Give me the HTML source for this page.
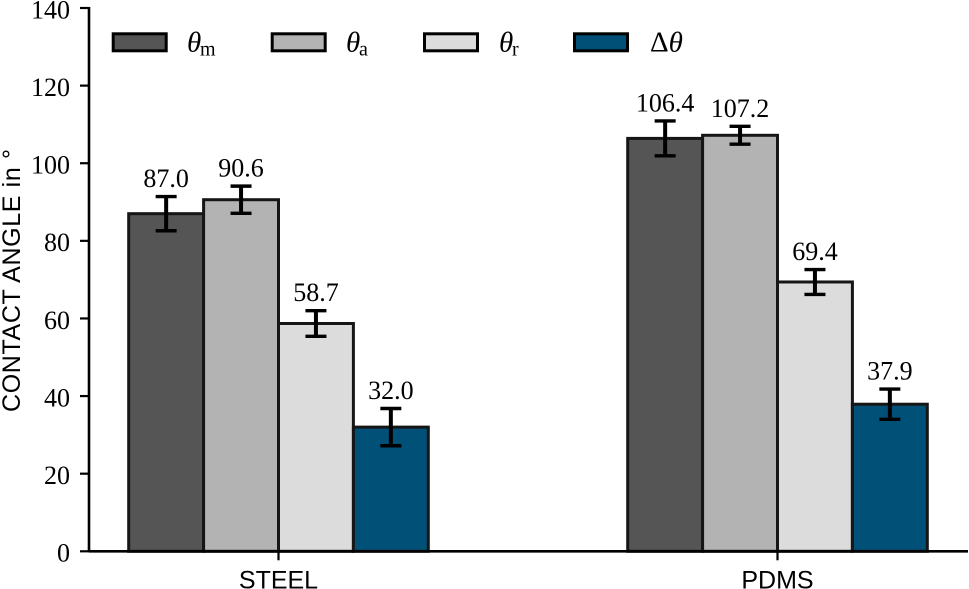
<!DOCTYPE html>
<html>
<head>
<meta charset="utf-8">
<title>Contact angle chart</title>
<style>
html,body{margin:0;padding:0;background:#fff;width:969px;height:589px;overflow:hidden}
svg{display:block}
text{fill:#000}
.num{font-family:"Liberation Serif",serif;font-size:26px}
.sans{font-family:"Liberation Sans",sans-serif;font-size:25px}
.sym{font-family:"Liberation Serif",serif;font-size:29px;font-style:italic}
.upright{font-style:normal}
.sub{font-family:"Liberation Serif",serif;font-size:20px}
</style>
</head>
<body>
<svg id="chart" xmlns="http://www.w3.org/2000/svg" width="969" height="589" viewBox="0 0 969 589"></svg>
<script>
const categories = ['STEEL', 'PDMS'];
const seriesNames = ['theta-m', 'theta-a', 'theta-r', 'delta-theta'];
const thetaM = [87.0, 106.4];
const thetaA = [90.6, 107.2];
const thetaR = [58.7, 69.4];
const deltaTheta = [32.0, 37.9];
const thetaMErr = [4.4, 4.5];
const thetaAErr = [3.5, 2.3];
const thetaRErr = [3.3, 3.2];
const deltaThetaErr = [4.8, 3.9];
const yTicks = [0, 20, 40, 60, 80, 100, 120, 140];
const seriesColors = ['#555555', '#b3b3b3', '#dcdcdc', '#005078'];

const allValues = [thetaM, thetaA, thetaR, deltaTheta];
const allErrors = [thetaMErr, thetaAErr, thetaRErr, deltaThetaErr];

const svg = document.getElementById('chart');
const NS = 'http://www.w3.org/2000/svg';
function mk(tag, attrs, txt) {
  const e = document.createElementNS(NS, tag);
  for (const k in attrs) e.setAttribute(k, attrs[k]);
  if (txt !== undefined) e.textContent = txt;
  svg.appendChild(e);
  return e;
}
function yScale(v) { return 551.3 - v * (543.3 / 140); }
function xCenter(i) { return 278.5 + i * 499; }
const barWidth = 74.9;
function xBar(i, s) { return xCenter(i) + (s - 2) * barWidth; }

allValues.forEach(function (vals, s) {
  vals.forEach(function (v, i) {
    const bar = mk('rect', {
      x: xBar(i, s), y: yScale(v), width: barWidth, height: yScale(0) - yScale(v),
      fill: seriesColors[s], stroke: '#161616', 'stroke-width': 3
    });
    
    
  });
});

allValues.forEach(function (vals, s) {
  vals.forEach(function (v, i) {
    const cx = xBar(i, s) + barWidth / 2;
    const hi = yScale(v + allErrors[s][i]);
    const lo = yScale(v - allErrors[s][i]);
    const stem = mk('line', { x1: cx, x2: cx, y1: hi, y2: lo, stroke: '#000', 'stroke-width': 4 });
    
    
    const capTop = mk('line', { x1: cx - 10.5, x2: cx + 10.5, y1: hi, y2: hi, stroke: '#000', 'stroke-width': 3.4 });
    
    
    const capBottom = mk('line', { x1: cx - 10.5, x2: cx + 10.5, y1: lo, y2: lo, stroke: '#000', 'stroke-width': 3.4 });
    
    
    const label = mk('text', { x: cx, y: hi - 9.5, 'text-anchor': 'middle', class: 'num' }, v.toFixed(1));
    
    
  });
});

const ySpine = mk('line', { x1: 89, x2: 89, y1: yScale(140) - 1, y2: yScale(0) + 1, stroke: '#000', 'stroke-width': 2.6 });


const xSpine = mk('line', { x1: 89, x2: 968, y1: yScale(0), y2: yScale(0), stroke: '#000', 'stroke-width': 2.6 });



yTicks.forEach(function (t) {
  const y = yScale(t);
  const tick = mk('line', { x1: 80, x2: 89, y1: y, y2: y, stroke: '#000', 'stroke-width': 2.2 });
  
  
  const lab = mk('text', { x: 70, y: y + 10.3, 'text-anchor': 'end', class: 'num' }, String(t));
  
  
});

categories.forEach(function (c, i) {
  const x = xCenter(i);
  const tick = mk('line', { x1: x, x2: x, y1: yScale(0), y2: yScale(0) + 9, stroke: '#000', 'stroke-width': 2.2 });
  
  
  const lab = mk('text', { x: x, y: 588.5, 'text-anchor': 'middle', class: 'sans' }, c);
  
  
});

const yTitle = mk('text', { transform: 'translate(20,280.5) rotate(-90)', 'text-anchor': 'middle', class: 'sans', textLength: 263, lengthAdjust: 'spacing' }, 'CONTACT ANGLE in °');



const legendX = [113.2, 272.2, 424.5, 574.5];
const legendSymbols = ['θ', 'θ', 'θ', ''];
const legendSubs = ['m', 'a', 'r', ''];
const legendTextX = [187, 346, 499, 650];
legendX.forEach(function (x, s) {
  const patch = mk('rect', { x: x, y: 33.8, width: 53, height: 17, fill: seriesColors[s], stroke: '#000', 'stroke-width': 3 });
  
  
  const sym = mk('text', { x: legendTextX[s], y: 51.5, class: 'sym' }, legendSymbols[s]);
  
  
  if (s === 3) {
    const delta = document.createElementNS(NS, 'tspan');
    delta.setAttribute('class', 'upright');
    delta.textContent = 'Δ';
    sym.appendChild(delta);
    sym.appendChild(document.createTextNode('θ'));
  }
  if (legendSubs[s]) {
    const sub = mk('text', { x: legendTextX[s] + 13, y: 55.5, class: 'sub' }, legendSubs[s]);
    
    
  }
});
</script>
</body>
</html>
